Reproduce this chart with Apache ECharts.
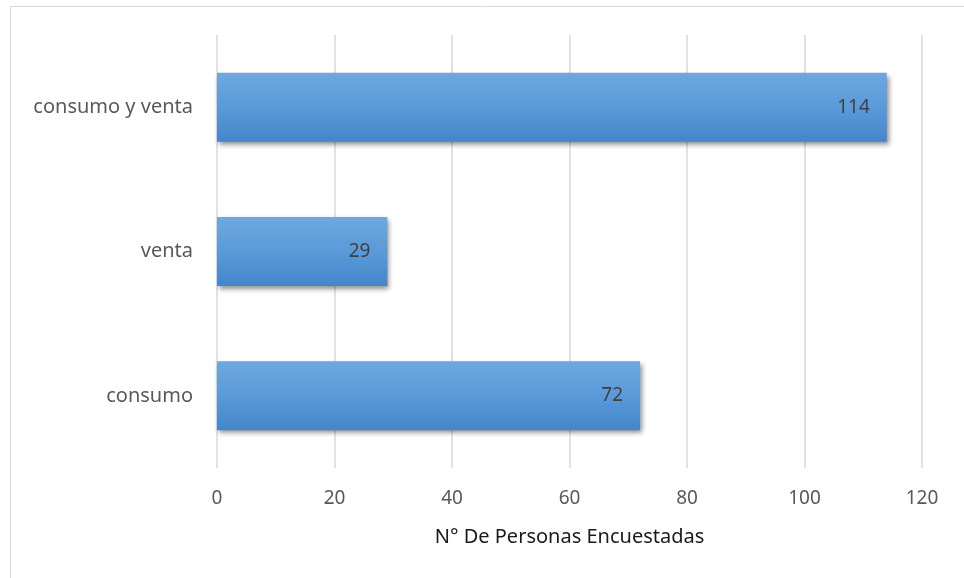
<!DOCTYPE html>
<html><head><meta charset="utf-8">
<script src="https://cdn.jsdelivr.net/npm/echarts@6/dist/echarts.min.js"></script>
<style>html,body{margin:0;padding:0;background:#fff}#c{width:964px;height:578px}</style>
</head><body><div id="c"></div>
<script>
var categories = ['consumo', 'venta', 'consumo y venta'];
var values = [72, 29, 114];
var xTicks = {min: 0, max: 120, interval: 20};
var axisTitle = 'N° De Personas Encuestadas';

var chart = echarts.init(document.getElementById('c'), null, {renderer: 'canvas'});
var font = '"Noto Sans", "Open Sans", sans-serif';
chart.setOption({
  animation: false,
  graphic: [{
    type: 'rect', shape: {x: 10.5, y: 6.5, width: 1000, height: 1000},
    style: {fill: 'none', stroke: '#d9d9d9', lineWidth: 1}, z: -1
  }],
  grid: {left: 217, right: 42, top: 35, bottom: 110},
  xAxis: {
    type: 'value', min: xTicks.min, max: xTicks.max, interval: xTicks.interval,
    name: axisTitle, nameLocation: 'middle', nameGap: 59,
    nameTextStyle: {color: '#1a1a1a', fontSize: 20, fontFamily: font},
    axisLine: {show: false}, axisTick: {show: false},
    axisLabel: {color: '#595959', fontSize: 19, fontFamily: font, margin: 21},
    splitLine: {lineStyle: {color: '#d9d9d9', width: 1.5}}
  },
  yAxis: {
    type: 'category', data: categories,
    axisLine: {show: false}, axisTick: {show: false},
    axisLabel: {color: '#595959', fontSize: 20, fontFamily: font, margin: 24}
  },
  series: [{
    type: 'bar', data: values, barWidth: 69,
    itemStyle: {
      color: new echarts.graphic.LinearGradient(0, 0, 0, 1, [
        {offset: 0, color: '#6fa8de'},
        {offset: 0.5, color: '#5a9ad9'},
        {offset: 1, color: '#4486cb'}
      ]),
      shadowColor: 'rgba(0,0,0,0.45)', shadowBlur: 5, shadowOffsetX: 2, shadowOffsetY: 3
    },
    label: {
      show: true, position: 'insideRight', distance: 17,
      color: '#404040', fontSize: 19, fontFamily: font
    }
  }]
});
</script></body></html>
